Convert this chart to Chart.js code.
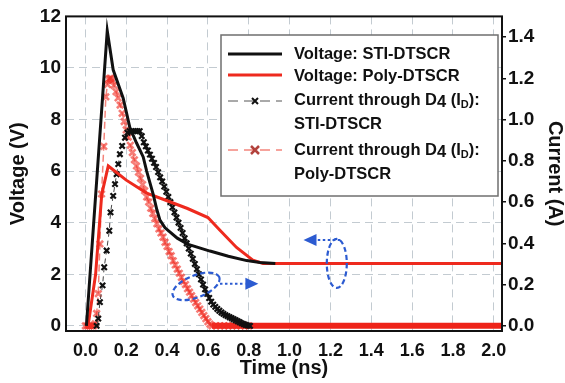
<!DOCTYPE html>
<html>
<head>
<meta charset="utf-8">
<script src="https://cdn.jsdelivr.net/npm/chart.js@4.4.0/dist/chart.umd.min.js"></script>
<style>
html, body { margin: 0; padding: 0; background: #fff; }
#wrap { width: 565px; height: 383px; }
</style>
</head>
<body>
<div id="wrap"><canvas id="chart" width="565" height="383"></canvas></div>
<script>
// tick labels
var timeTicks = [0, 0.2, 0.4, 0.6, 0.8, 1.0, 1.2, 1.4, 1.6, 1.8, 2.0];
var voltTicks = [0, 2, 4, 6, 8, 10, 12];
var currTicks = [0, 0.2, 0.4, 0.6, 0.8, 1.0, 1.2, 1.4];

var seriesNames = ['Voltage: STI-DTSCR', 'Voltage: Poly-DTSCR', 'Current through D4 (ID): STI-DTSCR', 'Current through D4 (ID): Poly-DTSCR'];

// [time ns, volts]
var voltSti = [[0.005,0],[0.107,11.44],[0.136,9.93],[0.185,8.83],[0.218,7.68],[0.25,7.1],[0.283,6.55],[0.3,6.0],
  [0.332,5.1],[0.35,4.5],[0.365,4.1],[0.39,3.8],[0.45,3.4],[0.5,3.17],[0.61,2.9],[0.7,2.7],[0.79,2.53],[0.855,2.46],[0.93,2.42]];
var voltPoly = [[0,0],[0.015,0.1],[0.05,2.0],[0.08,5.1],[0.112,6.2],[0.2,5.65],[0.3,5.15],[0.4,4.85],[0.5,4.55],
  [0.6,4.2],[0.66,3.7],[0.74,3.04],[0.82,2.55],[0.87,2.42],[2.05,2.42]];

// [time ns, amps]
var currSti = [[0.055,0],[0.063,0.035],[0.071,0.115],[0.084,0.196],[0.092,0.284],[0.104,0.365],[0.117,0.461],[0.123,0.55],
  [0.136,0.63],[0.145,0.687],[0.153,0.735],[0.161,0.784],[0.169,0.832],[0.18,0.872],[0.194,0.912],[0.206,0.936],[0.216,0.944],
  [0.226,0.944],[0.236,0.944],[0.246,0.944],[0.256,0.944],[0.266,0.944],[0.276,0.92],[0.286,0.89],[0.296,0.87],[0.306,0.85],
  [0.316,0.83],[0.326,0.81],[0.336,0.79],[0.346,0.77],[0.356,0.745],[0.366,0.72],[0.376,0.70],[0.386,0.675],[0.396,0.65],
  [0.406,0.625],[0.416,0.60],[0.426,0.575],[0.436,0.55],[0.446,0.525],[0.456,0.50],[0.466,0.475],[0.476,0.45],[0.486,0.425],
  [0.496,0.40],[0.506,0.375],[0.516,0.35],[0.526,0.325],[0.536,0.30],[0.546,0.275],[0.556,0.25],[0.566,0.225],[0.576,0.20],
  [0.586,0.177],[0.596,0.155],[0.606,0.135],[0.616,0.117],[0.626,0.103],[0.636,0.092],[0.646,0.082],[0.656,0.073],[0.666,0.065],
  [0.676,0.058],[0.686,0.052],[0.696,0.047],[0.706,0.042],[0.716,0.037],[0.726,0.032],[0.736,0.027],[0.746,0.022],[0.756,0.017],
  [0.766,0.012],[0.776,0.008],[0.786,0.004],[0.796,0.001],[0.806,0]];
var currPoly = [[0,0],[0.01,0],[0.02,0],[0.03,0],[0.04,0],[0.048,0.01],[0.055,0.06],[0.063,0.156],[0.071,0.397],[0.079,0.639],
  [0.09,0.87],[0.1,1.11],[0.108,1.17],[0.114,1.195],[0.12,1.2],[0.126,1.2],[0.132,1.19],[0.14,1.165],[0.15,1.135],[0.16,1.105],
  [0.17,1.07],[0.18,1.03],[0.19,0.99],[0.2,0.95],[0.21,0.915],[0.22,0.875],[0.23,0.84],[0.24,0.805],[0.25,0.775],[0.26,0.745],
  [0.27,0.715],[0.28,0.685],[0.29,0.655],[0.3,0.625],[0.31,0.6],[0.32,0.57],[0.33,0.545],[0.34,0.52],[0.35,0.495],[0.36,0.47],
  [0.37,0.45],[0.38,0.43],[0.39,0.405],[0.4,0.385],[0.41,0.36],[0.42,0.34],[0.43,0.315],[0.44,0.295],[0.45,0.275],[0.46,0.255],
  [0.47,0.235],[0.48,0.215],[0.49,0.2],[0.5,0.18],[0.51,0.163],[0.52,0.146],[0.53,0.13],[0.54,0.113],[0.55,0.097],[0.56,0.081],
  [0.57,0.065],[0.58,0.05],[0.59,0.035],[0.6,0.02],[0.61,0.008],[0.62,0],[0.64,0],[0.66,0],[0.68,0],[0.7,0],[0.72,0],[0.74,0],
  [0.76,0],[0.78,0],[0.8,0],[1.0,0],[1.2,0],[1.4,0],[1.6,0],[1.8,0],[2.05,0]];

function toPoints(pairs) {
  return pairs.map(function(p) { return { x: p[0], y: p[1] }; });
}

var FONT = "'Liberation Sans', Arial, sans-serif";
var BLUE = '#2c5bd1';
Chart.defaults.font.family = FONT;

function crossMark(ctx, x, y, r, color, w) {
  ctx.save();
  ctx.setLineDash([]);
  ctx.strokeStyle = color;
  ctx.lineWidth = w;
  ctx.beginPath();
  ctx.moveTo(x - r, y - r); ctx.lineTo(x + r, y + r);
  ctx.moveTo(x - r, y + r); ctx.lineTo(x + r, y - r);
  ctx.stroke();
  ctx.restore();
}

function arrow(ctx, x0, y, x1) {
  var dir = x1 > x0 ? 1 : -1;
  var base = x1 - dir * 13;
  ctx.setLineDash([2.5, 2.5]);
  ctx.beginPath(); ctx.moveTo(x0, y); ctx.lineTo(base, y); ctx.stroke();
  ctx.setLineDash([]);
  ctx.beginPath(); ctx.moveTo(x1, y); ctx.lineTo(base, y - 6); ctx.lineTo(base, y + 6); ctx.closePath(); ctx.fill();
}

var LEG_FONT = 'bold 16.5px ' + FONT;

function drawCurrentLabel(ctx, x, y) {
  ctx.font = LEG_FONT;
  var s = 'Current through D';
  ctx.fillText(s, x, y); x += ctx.measureText(s).width;
  ctx.fillText('4', x, y + 2); x += ctx.measureText('4').width;
  ctx.fillText(' (I', x, y); x += ctx.measureText(' (I').width;
  ctx.font = 'bold 11px ' + FONT;
  ctx.fillText('D', x, y + 5); x += ctx.measureText('D').width;
  ctx.font = LEG_FONT;
  ctx.fillText('):', x, y);
}

function drawLegend(ctx) {
  var L = 221, T = 35, W = 277, H = 161;
  ctx.save();
  ctx.fillStyle = '#fff';
  ctx.fillRect(L, T, W, H);
  ctx.strokeStyle = '#6f6f6f'; ctx.lineWidth = 1.5;
  ctx.strokeRect(L, T, W, H);

  var x0 = 228, x1 = 282, tx = 294;
  ctx.lineWidth = 3;
  ctx.strokeStyle = '#111';
  ctx.beginPath(); ctx.moveTo(x0, 54); ctx.lineTo(x1, 54); ctx.stroke();
  ctx.strokeStyle = '#ee2a1e';
  ctx.beginPath(); ctx.moveTo(x0, 75); ctx.lineTo(x1, 75); ctx.stroke();

  ctx.lineWidth = 1;
  ctx.setLineDash([10, 6]);
  ctx.strokeStyle = '#555';
  ctx.beginPath(); ctx.moveTo(x0, 101); ctx.lineTo(x1, 101); ctx.stroke();
  ctx.strokeStyle = 'rgba(242,120,110,0.9)';
  ctx.lineWidth = 1.5;
  ctx.beginPath(); ctx.moveTo(x0, 150); ctx.lineTo(x1, 150); ctx.stroke();
  ctx.setLineDash([]);
  crossMark(ctx, 255, 101, 3, '#111', 2);
  crossMark(ctx, 255, 150, 4, 'rgba(170,45,40,0.9)', 2.5);

  ctx.fillStyle = '#111';
  ctx.textBaseline = 'middle';
  ctx.textAlign = 'left';
  ctx.font = LEG_FONT;
  ctx.fillText('Voltage: STI-DTSCR', tx, 54);
  ctx.fillText('Voltage: Poly-DTSCR', tx, 76);
  drawCurrentLabel(ctx, tx, 100);
  ctx.fillText('STI-DTSCR', tx, 124);
  drawCurrentLabel(ctx, tx, 150);
  ctx.fillText('Poly-DTSCR', tx, 174);
  ctx.restore();
}

var extras = {
  id: 'extras',
  afterDatasetsDraw: function(chart) {
    var ctx = chart.ctx, a = chart.chartArea;
    var xs = chart.scales.x, ys = chart.scales.y;
    ctx.save();
    ctx.strokeStyle = '#111';
    ctx.lineWidth = 2;
    ctx.strokeRect(a.left, a.top, a.right - a.left, a.bottom - a.top);

    // blue rings and arrows pointing to the axes
    ctx.strokeStyle = BLUE; ctx.fillStyle = BLUE; ctx.lineWidth = 2.2;
    ctx.setLineDash([5, 3]);
    ctx.beginPath();
    ctx.ellipse(xs.getPixelForValue(0.542), ys.getPixelForValue(1.53), 25, 11, -0.38, 0, Math.PI * 2);
    ctx.stroke();
    ctx.beginPath();
    ctx.ellipse(xs.getPixelForValue(1.231), ys.getPixelForValue(2.42), 10, 24.5, 0, 0, Math.PI * 2);
    ctx.stroke();
    ctx.lineWidth = 2;
    arrow(ctx, xs.getPixelForValue(0.659), ys.getPixelForValue(1.63), xs.getPixelForValue(0.847));
    arrow(ctx, xs.getPixelForValue(1.248), ys.getPixelForValue(3.33), xs.getPixelForValue(1.068));
    ctx.restore();

    drawLegend(ctx);
  }
};

function zeroSeg(ctx) {
  return ctx.p0.parsed.y === 0 && ctx.p1.parsed.y === 0;
}

new Chart(document.getElementById('chart'), {
  type: 'line',
  data: {
    datasets: [
      { label: seriesNames[0], data: toPoints(voltSti), yAxisID: 'y', borderColor: '#111', borderWidth: 3, pointRadius: 0 },
      { label: seriesNames[1], data: toPoints(voltPoly), yAxisID: 'y', borderColor: '#ee2a1e', borderWidth: 3, pointRadius: 0 },
      { label: seriesNames[2], data: toPoints(currSti), yAxisID: 'yR', borderColor: '#444', borderWidth: 1, borderDash: [5, 4],
        pointStyle: 'crossRot', pointRadius: 3.8, pointBorderColor: '#111', pointBorderWidth: 2.2 },
      { label: seriesNames[3], data: toPoints(currPoly), yAxisID: 'yR', borderColor: 'rgba(242,110,100,0.85)', borderWidth: 1.5,
        borderDash: [7, 4], pointStyle: 'crossRot',
        pointRadius: function(c) { return c.raw && c.raw.x > 0.81 ? 0 : 4.5; },
        pointBorderColor: 'rgba(240,45,35,0.62)', pointBorderWidth: 2.6,
        segment: {
          borderWidth: function(c) { return zeroSeg(c) ? 6 : 1.5; },
          borderDash: function(c) { return zeroSeg(c) ? [] : [7, 4]; },
          borderColor: function(c) { return zeroSeg(c) ? 'rgb(238,35,25)' : 'rgba(242,110,100,0.85)'; }
        } }
    ]
  },
  options: {
    responsive: false,
    animation: false,
    events: [],
    layout: { padding: { top: 15, left: 0, right: 0, bottom: 0 } },
    plugins: { legend: { display: false }, tooltip: { enabled: false } },
    scales: {
      x: {
        type: 'linear', position: 'bottom', min: -0.095, max: 2.04,
        afterBuildTicks: function(s) { s.ticks = timeTicks.map(function(v) { return { value: v }; }); },
        afterFit: function(s) { s.height = 52; },
        grid: { color: '#c3cbd1', lineWidth: 1, drawTicks: false },
        border: { display: false, dash: [8, 5] },
        ticks: { color: '#111', font: { size: 18, weight: 'bold' }, padding: 9, maxRotation: 0,
          callback: function(v) { return v.toFixed(1); } },
        title: { display: true, text: 'Time (ns)', color: '#111', font: { size: 20, weight: 'bold', lineHeight: 1 }, padding: { top: 0, bottom: 5 } }
      },
      y: {
        position: 'left', min: -0.2, max: 12,
        afterBuildTicks: function(s) { s.ticks = voltTicks.map(function(v) { return { value: v }; }); },
        afterFit: function(s) { s.width = 66; },
        grid: { color: '#c3cbd1', lineWidth: 1, drawTicks: false },
        border: { display: false, dash: [8, 5] },
        ticks: { color: '#111', font: { size: 19, weight: 'bold' }, padding: 5,
          callback: function(v) { return String(v); } },
        title: { display: true, text: 'Voltage (V)', color: '#111', font: { size: 20, weight: 'bold', lineHeight: 1 }, padding: { top: 8, bottom: 0 } }
      },
      yR: {
        position: 'right', min: -0.025, max: 1.5,
        afterBuildTicks: function(s) { s.ticks = currTicks.map(function(v) { return { value: v }; }); },
        afterFit: function(s) { s.width = 63; },
        grid: { drawOnChartArea: false, drawTicks: true, tickLength: 4, color: '#111', lineWidth: 1.5 },
        border: { display: false },
        ticks: { color: '#111', font: { size: 19, weight: 'bold' }, padding: 2,
          callback: function(v) { return v.toFixed(1); } },
        title: { display: true, text: 'Current (A)', color: '#111', font: { size: 20, weight: 'bold', lineHeight: 1 }, padding: { top: 0, bottom: 0 } }
      }
    }
  },
  plugins: [extras]
});
</script>
</body>
</html>
